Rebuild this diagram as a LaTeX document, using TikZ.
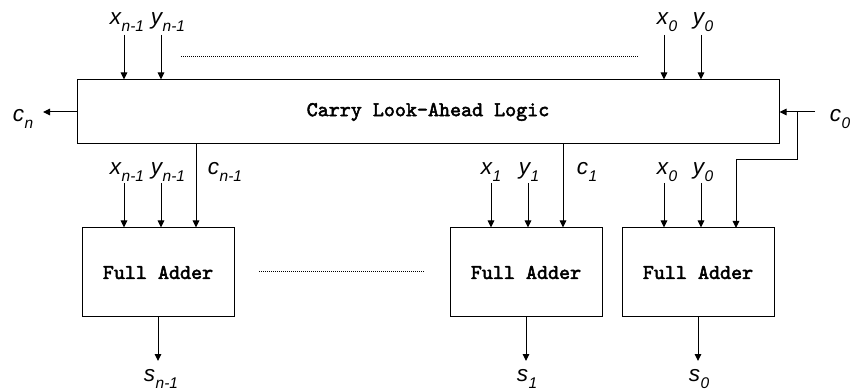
\documentclass[tikz,border=0pt]{standalone}
\usepackage{fontspec}
\setmainfont{Liberation Sans}
\newfontfamily\courb{lmmono10-regular.otf}[FakeBold=2.5]
\usetikzlibrary{arrows.meta}
\newcommand\sublab[2]{\fontsize{22.5}{24}\selectfont\itshape #1\kern0.5pt\raisebox{-7pt}{\fontsize{15.5}{16}\selectfont #2}}
\tikzset{
  blk/.style={draw, line width=1pt, rectangle, inner sep=0pt},
  boxtxt/.style={font=\courb\fontsize{21}{22}\selectfont},
  arr/.style={line width=1pt, -{Triangle[length=7pt,width=6.5pt]}},
  wire/.style={line width=1pt},
  lbl/.style={inner sep=0pt, anchor=base},
  dots/.style={line width=1pt, dash pattern=on 1pt off 1pt}
}
\begin{document}
\begin{tikzpicture}[x=1pt,y=-1pt]
\useasboundingbox (0,0) rectangle (852,390);
% blocks
\node[blk, minimum width=702pt, minimum height=64pt, boxtxt] (cla) at (428,112) {Carry Look-Ahead Logic};
\node[blk, minimum width=152pt, minimum height=89pt, boxtxt] (fan) at (158,272.5) {Full Adder};
\node[blk, minimum width=152pt, minimum height=89pt, boxtxt] (fa1) at (526,272.5) {Full Adder};
\node[blk, minimum width=152pt, minimum height=89pt, boxtxt] (fa0) at (698,272.5) {Full Adder};
% top inputs
\coordinate (txn) at (124,35);
\coordinate (tyn) at (161,35);
\coordinate (tx0) at (664,35);
\coordinate (ty0) at (701,35);
\foreach \c in {txn,tyn,tx0,ty0} \draw[arr] (\c) -- (\c |- cla.north);
\node[lbl] (ltxn) at (127,25) {\sublab{x}{n-1}};
\node[lbl] (ltyn) at (168,25) {\sublab{y}{n-1}};
\node[lbl] (ltx0) at (667,25) {\sublab{x}{0}};
\node[lbl] (lty0) at (703,25) {\sublab{y}{0}};
% dotted lines
\coordinate (d1a) at (181,57); \coordinate (d1b) at (639,57);
\draw[dots] (d1a) -- (d1b);
\coordinate (d2a) at (259,272); \coordinate (d2b) at (425,272);
\draw[dots] (d2a) -- (d2b);
% carry out / in
\coordinate (cnend) at (43,112);
\draw[arr] (cla.west) -- (cnend);
\node[lbl] (lcn) at (23,122) {\sublab{c}{n}};
\coordinate (c0s) at (815,112);
\draw[arr] (c0s) -- (cla.east);
\node[lbl] (lc0) at (840,122) {\sublab{c}{0}};
\coordinate (jc0) at (797,112);
\coordinate (fa0c) at (736,228);
\draw[arr] (jc0) -- (797,160) -| (fa0c);
% carries from CLA
\coordinate (cnm1) at (196,144);
\draw[arr] (cnm1) -- (cnm1 |- fan.north);
\coordinate (c1s) at (563,144);
\draw[arr] (c1s) -- (c1s |- fa1.north);
% lower inputs
\coordinate (bxn) at (124,183);
\coordinate (byn) at (161,183);
\coordinate (bx1) at (491,183);
\coordinate (by1) at (528,183);
\coordinate (bx0) at (664,183);
\coordinate (by0) at (701,183);
\foreach \c in {bxn,byn} \draw[arr] (\c) -- (\c |- fan.north);
\foreach \c in {bx1,by1} \draw[arr] (\c) -- (\c |- fa1.north);
\foreach \c in {bx0,by0} \draw[arr] (\c) -- (\c |- fa0.north);
\node[lbl] (lbxn) at (127,175) {\sublab{x}{n-1}};
\node[lbl] (lbyn) at (168,175) {\sublab{y}{n-1}};
\node[lbl] (lbcn) at (225,175) {\sublab{c}{n-1}};
\node[lbl] (lbx1) at (491,175) {\sublab{x}{1}};
\node[lbl] (lby1) at (529,175) {\sublab{y}{1}};
\node[lbl] (lbc1) at (587,175) {\sublab{c}{1}};
\node[lbl] (lbx0) at (667,175) {\sublab{x}{0}};
\node[lbl] (lby0) at (703,175) {\sublab{y}{0}};
% outputs
\coordinate (sn) at (158,361);
\coordinate (s1) at (526,361);
\coordinate (s0) at (698,361);
\draw[arr] (fan.south) -- (sn);
\draw[arr] (fa1.south) -- (s1);
\draw[arr] (fa0.south) -- (s0);
\node[lbl] (lsn) at (161,381) {\sublab{s}{n-1}};
\node[lbl] (ls1) at (527,381) {\sublab{s}{1}};
\node[lbl] (ls0) at (699,381) {\sublab{s}{0}};
\end{tikzpicture}
\end{document}
